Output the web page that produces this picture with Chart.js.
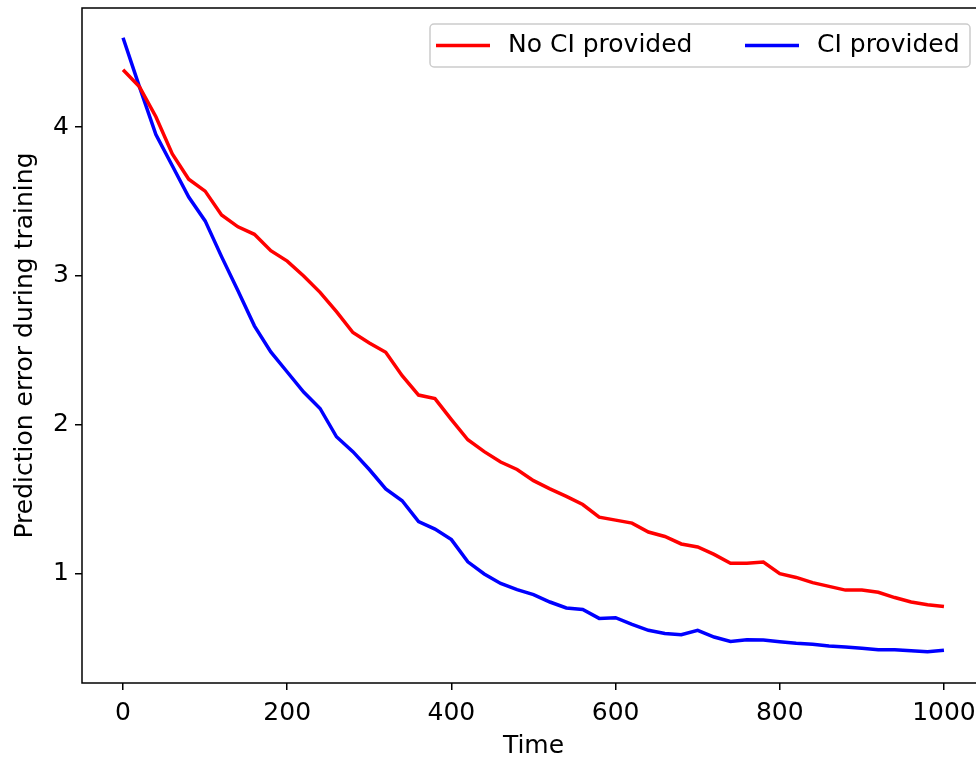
<!DOCTYPE html>
<html>
<head>
<meta charset="utf-8">
<script src="https://cdn.jsdelivr.net/npm/chart.js@4.4.0/dist/chart.umd.min.js"></script>
<style>
  html, body { margin: 0; padding: 0; background: #fff; overflow: hidden; }
  #wrap { width: 990px; height: 761px; }
</style>
</head>
<body>
<div id="wrap"><canvas id="chart" width="990" height="761"></canvas></div>
<script>
// training step, every 20 steps
const steps = [0, 20, 40, 60, 80, 100, 120, 140, 160, 180, 200, 220, 240, 260, 280, 300, 320, 340, 360, 380,
  400, 420, 440, 460, 480, 500, 520, 540, 560, 580, 600, 620, 640, 660, 680, 700, 720, 740, 760, 780,
  800, 820, 840, 860, 880, 900, 920, 940, 960, 980, 1000];

const noCiError = [4.385, 4.27, 4.07, 3.82, 3.65, 3.57, 3.41, 3.33, 3.28, 3.17, 3.10, 3.00, 2.89, 2.76, 2.62, 2.55, 2.487, 2.33, 2.20, 2.176,
  2.035, 1.90, 1.82, 1.75, 1.70, 1.625, 1.57, 1.52, 1.465, 1.38, 1.36, 1.34, 1.28, 1.25, 1.20, 1.18, 1.13, 1.07, 1.07, 1.078,
  1.00, 0.975, 0.94, 0.915, 0.89, 0.89, 0.875, 0.84, 0.81, 0.792, 0.78];

const ciError = [4.60, 4.27, 3.95, 3.74, 3.53, 3.37, 3.13, 2.90, 2.665, 2.49, 2.355, 2.22, 2.11, 1.92, 1.82, 1.70, 1.57, 1.49, 1.35, 1.30,
  1.229, 1.08, 0.998, 0.935, 0.893, 0.86, 0.81, 0.77, 0.76, 0.70, 0.705, 0.66, 0.62, 0.598, 0.59, 0.62, 0.575, 0.545, 0.556, 0.555,
  0.543, 0.533, 0.526, 0.515, 0.508, 0.50, 0.49, 0.49, 0.483, 0.476, 0.486];

const xTicks = [0, 200, 400, 600, 800, 1000];
const yTicks = [1, 2, 3, 4];

const FONT = "'DejaVu Sans', sans-serif";
const FS = 25;

// draws the full box around the plot area
const frame = {
  id: "frame",
  afterDatasetsDraw(chart) {
    const a = chart.chartArea;
    const ctx = chart.ctx;
    ctx.save();
    ctx.strokeStyle = "#000";
    ctx.lineWidth = 1.5;
    ctx.strokeRect(a.left, a.top, a.right - a.left, a.bottom - a.top);
    ctx.restore();
  },
};

// matplotlib-like legend, upper right
const mplLegend = {
  id: "mplLegend",
  afterDraw(chart) {
    const ctx = chart.ctx;
    const ds = chart.data.datasets;
    const x0 = 430, y0 = 24, w = 540, h = 43;
    ctx.save();
    ctx.fillStyle = "rgba(255,255,255,0.8)";
    ctx.strokeStyle = "#cccccc";
    ctx.lineWidth = 1.5;
    ctx.beginPath();
    ctx.roundRect(x0, y0, w, h, 4);
    ctx.fill();
    ctx.stroke();
    ctx.font = FS + "px " + FONT;
    ctx.textBaseline = "middle";
    const cy = y0 + h / 2;
    const starts = [436, 745];
    ds.forEach((d, i) => {
      ctx.strokeStyle = d.borderColor;
      ctx.lineWidth = 3.5;
      ctx.beginPath();
      ctx.moveTo(starts[i], cy);
      ctx.lineTo(starts[i] + 54, cy);
      ctx.stroke();
      ctx.fillStyle = "#000";
      ctx.fillText(d.label, starts[i] + 72, cy);
    });
    ctx.restore();
  },
};

new Chart(document.getElementById("chart"), {
  type: "line",
  data: {
    datasets: [
      {
        label: "No CI provided",
        data: steps.map((s, i) => ({ x: s, y: noCiError[i] })),
        borderColor: "#ff0000",
        borderWidth: 3.5,
        pointRadius: 0,
        tension: 0,
      },
      {
        label: "CI provided",
        data: steps.map((s, i) => ({ x: s, y: ciError[i] })),
        borderColor: "#0000ff",
        borderWidth: 3.5,
        pointRadius: 0,
        tension: 0,
      },
    ],
  },
  options: {
    responsive: false,
    animation: false,
    devicePixelRatio: 1,
    layout: { padding: { top: 8, right: 5, left: 0, bottom: 0 } },
    plugins: {
      legend: { display: false },
      tooltip: { enabled: false },
    },
    scales: {
      x: {
        type: "linear",
        min: -50,
        max: 1050,
        afterBuildTicks: (scale) => {
          scale.ticks = xTicks.map((v) => ({ value: v }));
        },
        afterFit: (scale) => {
          scale.height = 78;
          scale.paddingLeft = 0;
          scale.paddingRight = 0;
        },
        grid: { drawOnChartArea: false, color: "#000", tickLength: 7, lineWidth: 1.5 },
        border: { display: false },
        ticks: { color: "#000", font: { family: FONT, size: FS }, padding: 8, maxRotation: 0, callback: (v) => String(v) },
        title: { display: true, text: "Time", color: "#000", font: { family: FONT, size: FS }, padding: { top: 0, bottom: 0 } },
      },
      y: {
        min: 0.266,
        max: 4.80,
        afterBuildTicks: (scale) => {
          scale.ticks = yTicks.map((v) => ({ value: v }));
        },
        afterFit: (scale) => {
          scale.width = 82;
          scale.paddingTop = 0;
          scale.paddingBottom = 0;
        },
        grid: { drawOnChartArea: false, color: "#000", tickLength: 7, lineWidth: 1.5 },
        border: { display: false },
        ticks: { color: "#000", font: { family: FONT, size: FS }, padding: 6 },
        title: { display: true, text: "Prediction error during training", color: "#000", font: { family: FONT, size: FS }, padding: { top: 10, bottom: 0 } },
      },
    },
  },
  plugins: [frame, mplLegend],
});
</script>
</body>
</html>
